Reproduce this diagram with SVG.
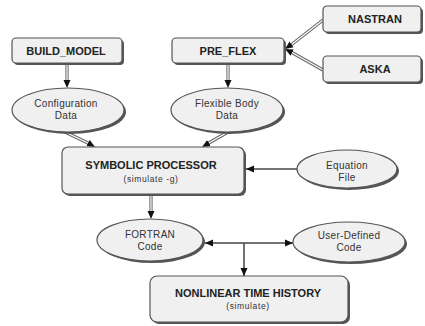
<svg xmlns="http://www.w3.org/2000/svg" width="425" height="326" viewBox="0 0 425 326">
<style>
.box{fill:#f0f0f0;stroke:#555;stroke-width:1.2}
.sh{fill:#555}
.ell{fill:#f0f0f0;stroke:#555;stroke-width:1.2}
.t{font-family:"Liberation Sans",Arial,sans-serif;font-weight:bold;font-size:11px;fill:#222;text-anchor:middle}
.s{font-family:"Liberation Sans",Arial,sans-serif;font-size:8.5px;fill:#333;text-anchor:middle;letter-spacing:0.6px}
.e{font-family:"Liberation Sans",Arial,sans-serif;font-size:10px;fill:#333;text-anchor:middle;letter-spacing:0.3px}
.outer{fill:none;stroke:#666;stroke-width:3.2}
.inner{fill:none;stroke:#fff;stroke-width:1.2}
.single{fill:none;stroke:#444;stroke-width:1.5}
.tip{fill:none;stroke:none}
</style>
<defs>
<marker id="ah" markerUnits="userSpaceOnUse" markerWidth="8" markerHeight="8" viewBox="0 0 8 8" refX="8" refY="4" orient="auto">
<path d="M0,0.5 L8,4 L0,7.5 Z" fill="#111"/>
</marker>
</defs>
<g id="connectors">
<path class="outer" d="M67,63 V82"/><path class="inner" d="M67,63 V82"/><path class="tip" d="M67,80 V88" marker-end="url(#ah)"/>
<path class="outer" d="M228,63 V82"/><path class="inner" d="M228,63 V82"/><path class="tip" d="M228,80 V88" marker-end="url(#ah)"/>
<path class="outer" d="M323,20 L291,45"/><path class="inner" d="M323,20 L291,45"/><path class="tip" d="M295,42 L285,49" marker-end="url(#ah)"/>
<path class="outer" d="M323,70 L291,52"/><path class="inner" d="M323,70 L291,52"/><path class="tip" d="M295,54 L285,49" marker-end="url(#ah)"/>
<path class="outer" d="M65,132 L90,144"/><path class="inner" d="M65,132 L90,144"/><path class="tip" d="M88,143 L95,147" marker-end="url(#ah)"/>
<path class="outer" d="M228,132 L207,144"/><path class="inner" d="M228,132 L207,144"/><path class="tip" d="M209,143 L202,147" marker-end="url(#ah)"/>
<path class="outer" d="M151,194 V212"/><path class="inner" d="M151,194 V212"/><path class="tip" d="M151,210 V219" marker-end="url(#ah)"/>
<path class="single" d="M297,169 H246" marker-end="url(#ah)"/>
<path class="single" d="M244,243 H205" marker-end="url(#ah)"/>
<path class="single" d="M244,243 H293" marker-end="url(#ah)"/>
<path class="single" d="M244,243 V276" marker-end="url(#ah)"/>
</g>
<g id="build_model">
<rect class="sh" x="14" y="40" width="110" height="25" rx="4"/>
<rect class="box" x="12" y="38" width="110" height="25" rx="4"/>
<text class="t" x="66" y="55">BUILD_MODEL</text>
</g>
<g id="pre_flex">
<rect class="sh" x="174" y="40" width="112" height="25" rx="4"/>
<rect class="box" x="172" y="38" width="112" height="25" rx="4"/>
<text class="t" x="228" y="55">PRE_FLEX</text>
</g>
<g id="nastran">
<rect class="sh" x="325" y="8" width="98" height="26" rx="4"/>
<rect class="box" x="323" y="6" width="98" height="26" rx="4"/>
<text class="t" x="375" y="23">NASTRAN</text>
</g>
<g id="aska">
<rect class="sh" x="325" y="58" width="98" height="26" rx="4"/>
<rect class="box" x="323" y="56" width="98" height="26" rx="4"/>
<text class="t" x="375" y="73">ASKA</text>
</g>
<g id="config_data">
<ellipse class="sh" cx="70" cy="112" rx="56" ry="22"/>
<ellipse class="ell" cx="68" cy="110" rx="56" ry="22"/>
<text class="e" x="66" y="107">Configuration</text>
<text class="e" x="66" y="119">Data</text>
</g>
<g id="flex_body_data">
<ellipse class="sh" cx="229" cy="112" rx="56" ry="22"/>
<ellipse class="ell" cx="227" cy="110" rx="56" ry="22"/>
<text class="e" x="227" y="107">Flexible Body</text>
<text class="e" x="227" y="119">Data</text>
</g>
<g id="symbolic_processor">
<rect class="sh" x="64" y="149" width="182" height="47" rx="6"/>
<rect class="box" x="62" y="147" width="182" height="47" rx="6"/>
<text class="t" x="151" y="169">SYMBOLIC PROCESSOR</text>
<text class="s" x="151" y="182">(simulate -g)</text>
</g>
<g id="equation_file">
<ellipse class="sh" cx="349" cy="171" rx="50" ry="19"/>
<ellipse class="ell" cx="347" cy="169" rx="50" ry="19"/>
<text class="e" x="347" y="169">Equation</text>
<text class="e" x="347" y="181">File</text>
</g>
<g id="fortran_code">
<ellipse class="sh" cx="152" cy="242" rx="53" ry="21"/>
<ellipse class="ell" cx="150" cy="240" rx="53" ry="21"/>
<text class="e" x="150" y="238">FORTRAN</text>
<text class="e" x="150" y="250">Code</text>
</g>
<g id="user_defined_code">
<ellipse class="sh" cx="351" cy="244" rx="56" ry="20"/>
<ellipse class="ell" cx="349" cy="242" rx="56" ry="20"/>
<text class="e" x="349" y="239">User-Defined</text>
<text class="e" x="349" y="251">Code</text>
</g>
<g id="nonlinear_time_history">
<rect class="sh" x="152" y="278" width="198" height="46" rx="7"/>
<rect class="box" x="150" y="276" width="198" height="46" rx="7"/>
<text class="t" x="248" y="297">NONLINEAR TIME HISTORY</text>
<text class="s" x="248" y="309">(simulate)</text>
</g>
</svg>
